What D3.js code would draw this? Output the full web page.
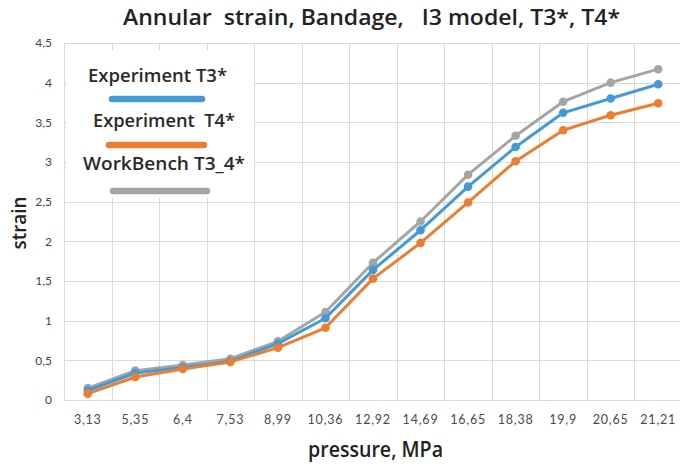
<!DOCTYPE html>
<html>
<head>
<meta charset="utf-8">
<script src="https://cdn.jsdelivr.net/npm/d3@7"></script>
<style>
  html, body { margin: 0; padding: 0; background: #fff; }
  svg { display: block; font-family: Lato, "Open Sans", sans-serif; }
  text { white-space: pre; }
  .label { font-family: "Open Sans", Lato, sans-serif; font-weight: 600; }
</style>
</head>
<body>
<svg id="chart" width="680" height="466"></svg>
<script>
// Pressure steps (category axis) and measured / simulated annular strain
const pressures = ["3,13", "5,35", "6,4", "7,53", "8,99", "10,36", "12,92", "14,69", "16,65", "18,38", "19,9", "20,65", "21,21"];
const expT3 = [0.12, 0.34, 0.41, 0.49, 0.71, 1.03, 1.64, 2.14, 2.69, 3.19, 3.62, 3.80, 3.98];
const expT4 = [0.08, 0.29, 0.39, 0.48, 0.66, 0.91, 1.53, 1.98, 2.49, 3.01, 3.40, 3.59, 3.74];
const workBench = [0.15, 0.37, 0.44, 0.52, 0.74, 1.11, 1.73, 2.25, 2.84, 3.33, 3.76, 4.00, 4.17];
const yTicks = [0, 0.5, 1, 1.5, 2, 2.5, 3, 3.5, 4, 4.5];
const seriesNames = ["Experiment T3*", "Experiment  T4*", "WorkBench T3_4*"];
const seriesColors = ["#449ad6", "#ed7d31", "#a5a5a5"];

const series = [expT3, expT4, workBench].map((values, i) => ({
  name: seriesNames[i], color: seriesColors[i], values
}));

const svg = d3.select("#chart");
const plot = { left: 64, right: 682, top: 43, bottom: 400 };

const x = d3.scaleBand().domain(pressures).range([plot.left, plot.right]);
const y = d3.scaleLinear().domain([0, 4.5]).range([plot.bottom, plot.top]);
const fmt = v => String(v).replace(".", ",");

// grid
const grid = svg.append("g").attr("stroke", "#dadada").attr("stroke-width", 1);
grid.selectAll(".h").data(yTicks).join("line")
  .attr("x1", plot.left).attr("x2", plot.right)
  .attr("y1", d => Math.round(y(d)) + 0.5).attr("y2", d => Math.round(y(d)) + 0.5);
grid.selectAll(".v").data(pressures).join("line")
  .attr("x1", d => Math.round(x(d)) + 0.5).attr("x2", d => Math.round(x(d)) + 0.5)
  .attr("y1", plot.top).attr("y2", plot.bottom);

// y axis tick labels
const yAxis = svg.append("g").attr("transform", `translate(${plot.left},0)`)
  .call(d3.axisLeft(y).tickValues(yTicks).tickFormat(fmt).tickSize(0).tickPadding(12));
yAxis.select(".domain").remove();
yAxis.selectAll("text").attr("font-size", 12).attr("fill", "#444")
  .attr("font-family", "Lato, 'Open Sans', sans-serif");

// x axis tick labels
const xAxis = svg.append("g").attr("transform", `translate(0,${plot.bottom})`)
  .call(d3.axisBottom(x).tickSize(0).tickPadding(15));
xAxis.select(".domain").remove();
xAxis.selectAll("text").attr("font-size", 12.5).attr("fill", "#4a4a4a")
  .attr("letter-spacing", 0.8)
  .attr("font-family", "Lato, 'Open Sans', sans-serif");

// lines and markers
const line = d3.line()
  .x((d, i) => x(pressures[i]) + x.bandwidth() / 2)
  .y(d => y(d));

const order = [series[2], series[0], series[1]];
order.forEach(s => {
  svg.append("path").datum(s.values)
    .attr("d", line).attr("fill", "none")
    .attr("stroke", s.color).attr("stroke-width", 3)
    .attr("stroke-linejoin", "round");
  svg.append("g").selectAll("circle").data(s.values).join("circle")
    .attr("cx", (d, i) => x(pressures[i]) + x.bandwidth() / 2)
    .attr("cy", d => y(d))
    .attr("r", 4.3).attr("fill", s.color);
});

// legend, boxed in white over the grid
const legendRows = [
  { textX: 88, textW: 139, textY: 82, lineX1: 112, lineX2: 202, lineY: 99 },
  { textX: 93, textW: 142, textY: 127, lineX1: 109, lineX2: 204, lineY: 145 },
  { textX: 83, textW: 162, textY: 170, lineX1: 113, lineX2: 207, lineY: 191 }
];
const legend = svg.append("g");
legend.append("rect").attr("x", 67).attr("y", 50)
  .attr("width", 187).attr("height", 148).attr("fill", "#fff");
series.forEach((s, i) => {
  const r = legendRows[i];
  legend.append("text").attr("class", "label").attr("x", r.textX).attr("y", r.textY)
    .attr("font-size", 18)
    .attr("textLength", r.textW).attr("lengthAdjust", "spacingAndGlyphs")
    .attr("fill", "#2a2a2a").text(s.name);
  legend.append("line").attr("x1", r.lineX1).attr("x2", r.lineX2)
    .attr("y1", r.lineY).attr("y2", r.lineY)
    .attr("stroke", s.color).attr("stroke-width", 6.5).attr("stroke-linecap", "round");
});

// titles
svg.append("text").attr("class", "label").attr("x", 123).attr("y", 25)
  .attr("font-size", 21).attr("fill", "#222")
  .attr("textLength", 497).attr("lengthAdjust", "spacingAndGlyphs")
  .text("Annular  strain, Bandage,   I3 model, T3*, T4*");
svg.append("text").attr("class", "label").attr("x", 308).attr("y", 457)
  .attr("font-size", 21).attr("fill", "#222")
  .attr("textLength", 135).attr("lengthAdjust", "spacingAndGlyphs")
  .text("pressure, MPa");
svg.append("text").attr("class", "label").attr("transform", "translate(26,223) rotate(-90)")
  .attr("text-anchor", "middle").attr("font-size", 20)
  .attr("textLength", 53).attr("lengthAdjust", "spacingAndGlyphs")
  .attr("fill", "#222").text("strain");
</script>
</body>
</html>
